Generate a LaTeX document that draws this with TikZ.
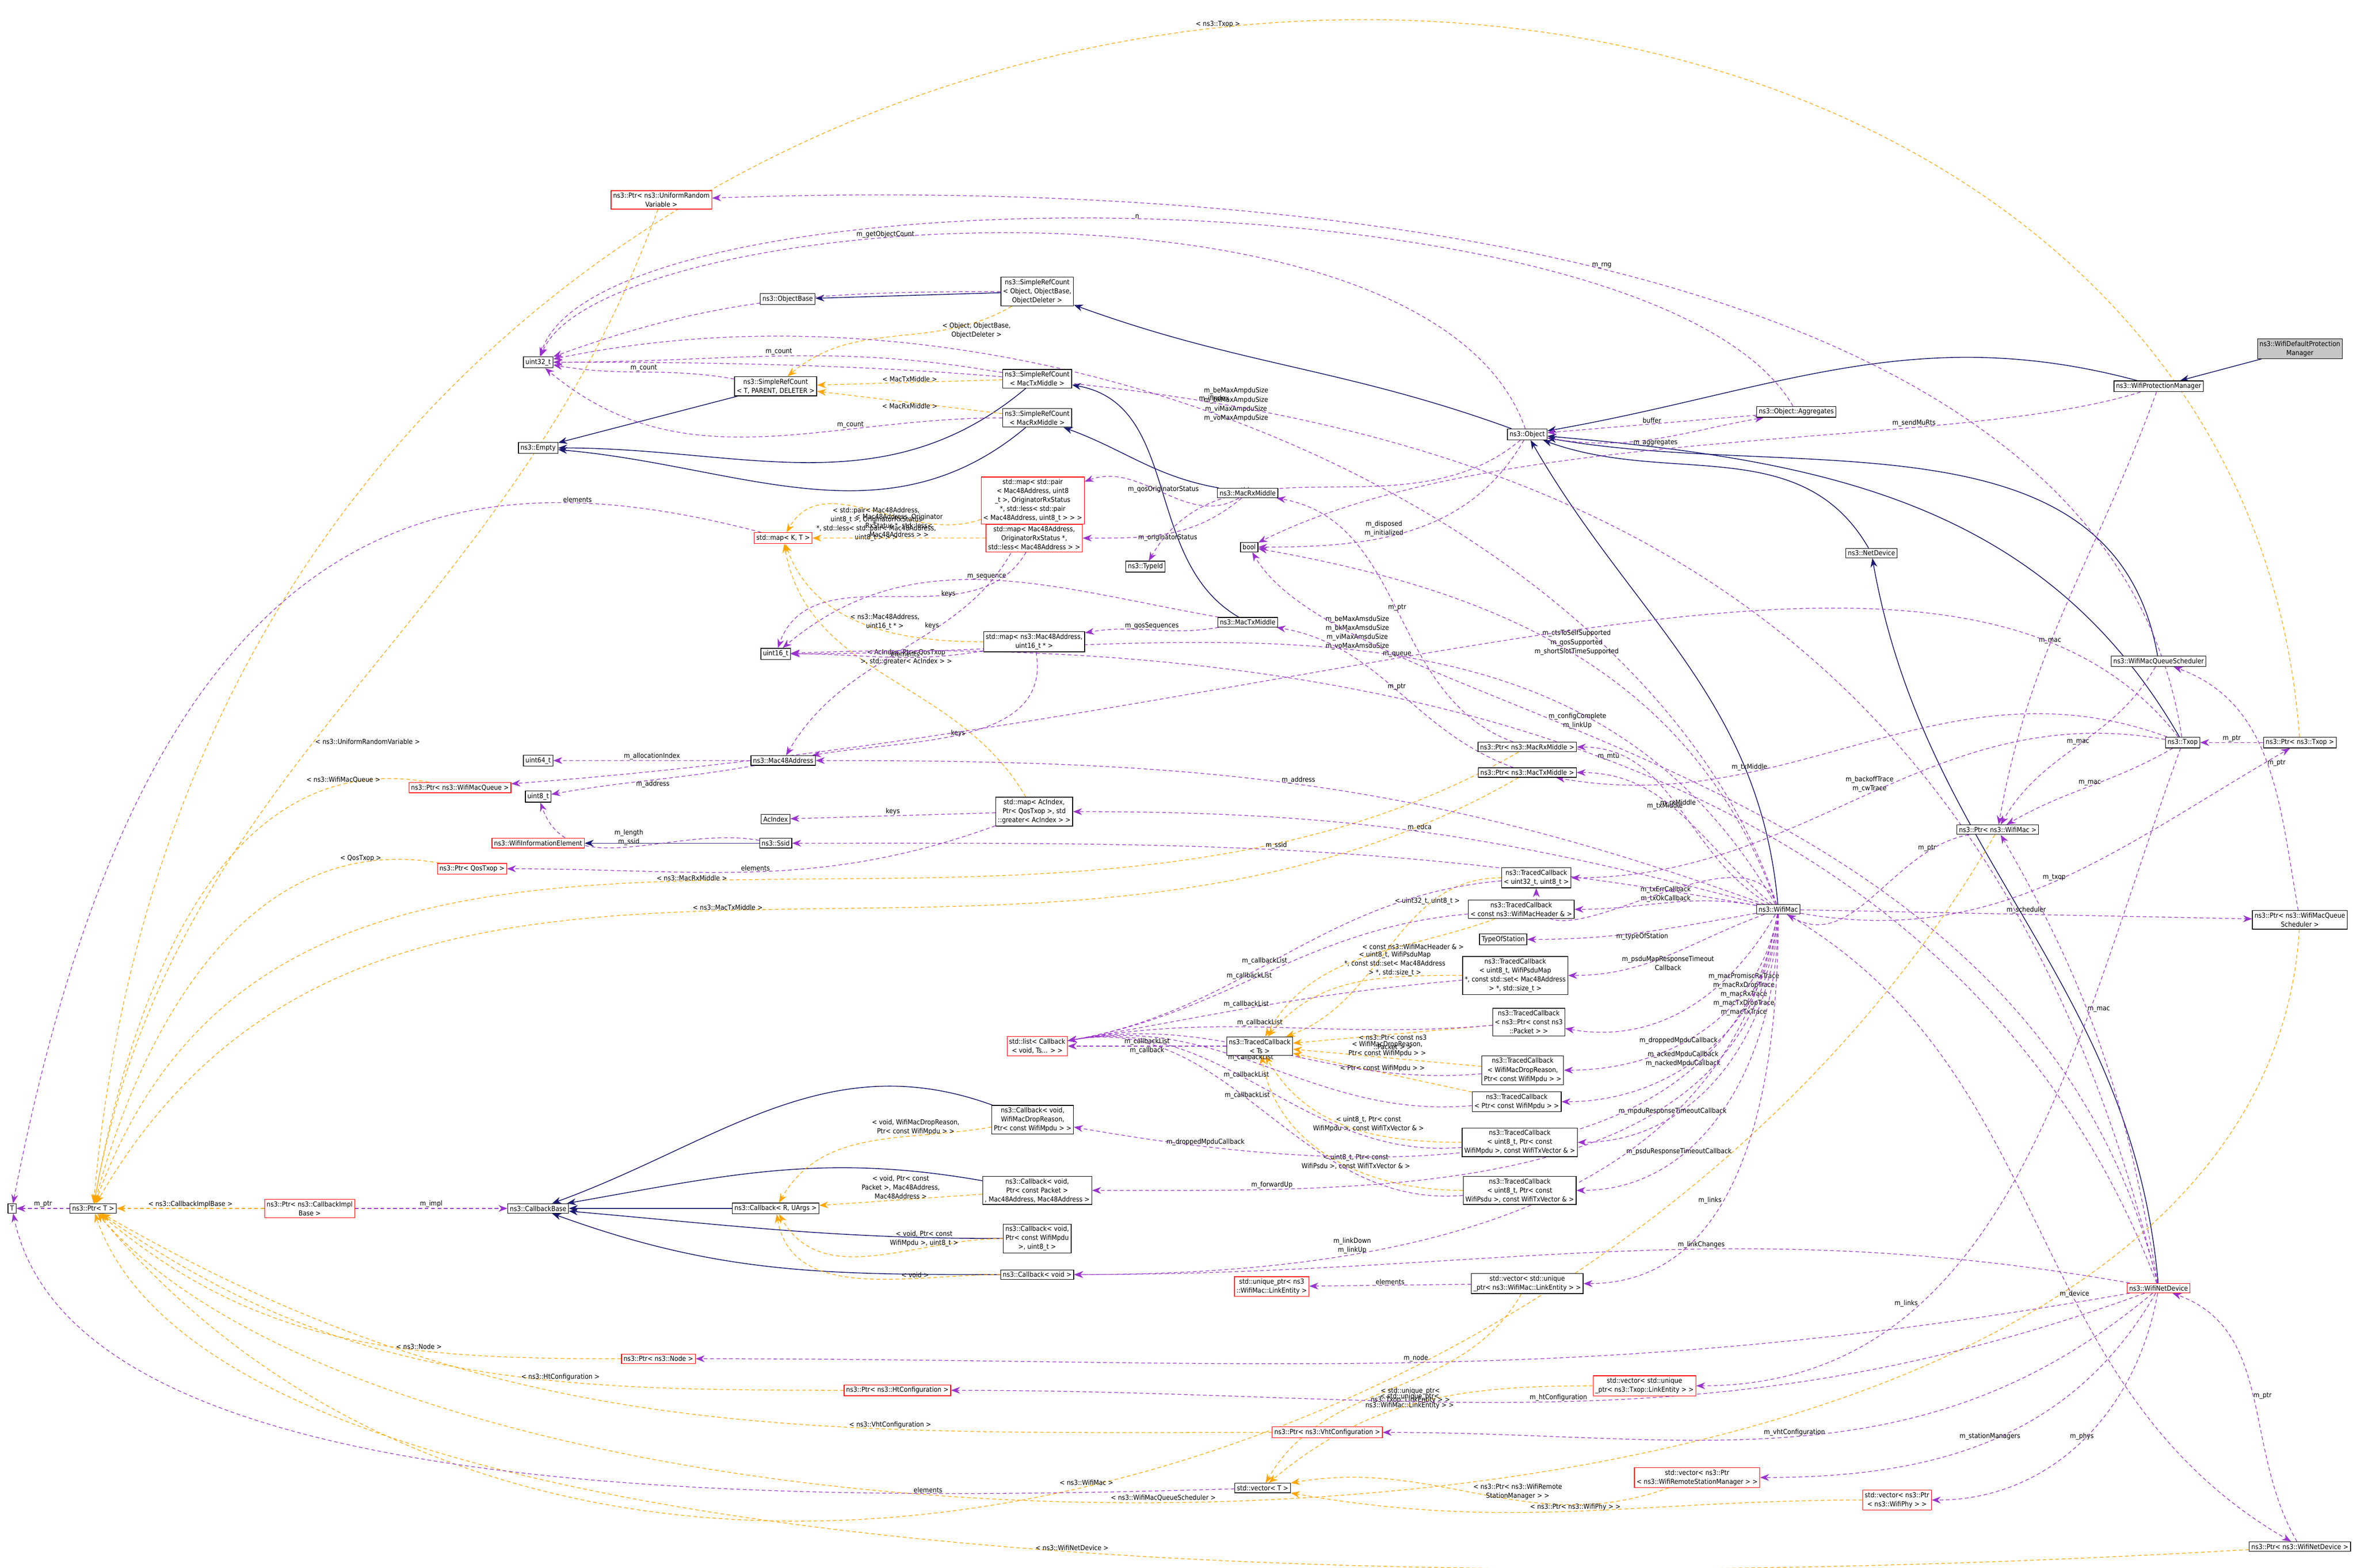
\documentclass[tikz,border=0pt]{standalone}
\usepackage{fontspec}
\setmainfont{DejaVu Sans Condensed}
\usetikzlibrary{arrows.meta}
\definecolor{navy}{HTML}{191970}
\definecolor{usep}{HTML}{9A32CD}
\definecolor{tplo}{HTML}{FFA500}
\pgfdeclarelayer{bg}\pgfsetlayers{bg,main}
\newcommand{\ff}{\fontsize{1.3}{1.7}\selectfont}
\tikzset{
 box/.style={draw=black, fill=white, line width=0.12pt, inner sep=0.4pt, align=center, font=\ff},
 rbox/.style={box, draw=red},
 gbox/.style={box, fill=gray!45},
 inh/.style={-{Stealth[length=0.6mm,width=0.45mm]}, draw=navy, line width=0.15pt},
 use/.style={-{Stealth[length=0.6mm,width=0.45mm]}, draw=usep, dash pattern=on 0.7pt off 0.5pt, line width=0.12pt},
 tpl/.style={use, draw=tplo},
 lbl/.style={font=\ff, align=center, inner sep=0.1pt, text=black},
}
\begin{document}
\begin{tikzpicture}[x=0.1mm,y=0.1mm]
\useasboundingbox (0,0) rectangle (1568,-1043);
% nodes
\node[gbox] (wdpm) at (1530,-232) {ns3::WifiDefaultProtection\\Manager};
\node[box] (wpm) at (1436,-257) {ns3::WifiProtectionManager};
\node[box] (obj) at (1016,-289) {ns3::Object};
\node[box] (agg) at (1195,-274) {ns3::Object::Aggregates};
\node[box] (srcobj) at (690,-194) {ns3::SimpleRefCount\\< Object, ObjectBase,\\ ObjectDeleter >};
\node[box] (objbase) at (524,-199) {ns3::ObjectBase};
\node[box] (u32) at (358,-241) {uint32\_t};
\node[box] (srctpd) at (516,-257) {ns3::SimpleRefCount\\< T, PARENT, DELETER >};
\node[box] (srctx) at (690,-252) {ns3::SimpleRefCount\\< MacTxMiddle >};
\node[box] (srcrx) at (690,-278) {ns3::SimpleRefCount\\< MacRxMiddle >};
\node[box] (empty) at (358,-298) {ns3::Empty};
\node[rbox] (mappair) at (687,-333) {std::map< std::pair\\< Mac48Address, uint8\\\_t >, OriginatorRxStatus\\ *, std::less< std::pair\\< Mac48Address, uint8\_t > > >};
\node[rbox] (mapkt) at (521,-358) {std::map< K, T >};
\node[rbox] (maporig) at (688,-358) {std::map< Mac48Address,\\ OriginatorRxStatus *,\\ std::less< Mac48Address > >};
\node[box] (macrx) at (830,-328) {ns3::MacRxMiddle};
\node[box] (bool) at (831,-364) {bool};
\node[box] (typeid) at (762,-377) {ns3::TypeId};
\node[box] (mactx) at (830,-414) {ns3::MacTxMiddle};
\node[box] (u16) at (516,-435) {uint16\_t};
\node[box] (mapseq) at (688,-427) {std::map< ns3::Mac48Address,\\ uint16\_t * >};
\node[box] (u64) at (358,-506) {uint64\_t};
\node[box] (mac48) at (521,-506) {ns3::Mac48Address};
\node[box] (u8) at (358,-530) {uint8\_t};
\node[rbox] (ptrq) at (306,-524) {ns3::Ptr< ns3::WifiMacQueue >};
\node[box] (acidx) at (516,-545) {AcIndex};
\node[box] (mapac) at (688,-540) {std::map< AcIndex,\\ Ptr< QosTxop >, std\\ ::greater< AcIndex > >};
\node[rbox] (wie) at (358,-561) {ns3::WifiInformationElement};
\node[box] (ssid) at (516,-561) {ns3::Ssid};
\node[rbox] (ptrqos) at (314,-578) {ns3::Ptr< QosTxop >};
\node[rbox] (ptrurv) at (440,-133) {ns3::Ptr< ns3::UniformRandom\\ Variable >};
\node[box] (ptrrx) at (1016,-497) {ns3::Ptr< ns3::MacRxMiddle >};
\node[box] (ptrtx) at (1016,-514) {ns3::Ptr< ns3::MacTxMiddle >};
\node[box] (tc1) at (1022,-584) {ns3::TracedCallback\\< uint32\_t, uint8\_t >};
\node[box] (tc2) at (1012,-605) {ns3::TracedCallback\\< const ns3::WifiMacHeader \& >};
\node[box] (tos) at (1000,-625) {TypeOfStation};
\node[box] (tc3) at (1008,-649) {ns3::TracedCallback\\< uint8\_t, WifiPsduMap\\ *, const std::set< Mac48Address\\ > *, std::size\_t >};
\node[box] (tc4) at (1017,-680) {ns3::TracedCallback\\< ns3::Ptr< const ns3\\ ::Packet > >};
\node[rbox] (list) at (690,-696) {std::list< Callback\\< void, Ts... > >};
\node[box] (tcts) at (838,-696) {ns3::TracedCallback\\< Ts >};
\node[box] (tc5) at (1013,-712) {ns3::TracedCallback\\< WifiMacDropReason,\\ Ptr< const WifiMpdu > >};
\node[box] (tc6) at (1009,-733) {ns3::TracedCallback\\< Ptr< const WifiMpdu > >};
\node[box] (tc7) at (1011,-760) {ns3::TracedCallback\\< uint8\_t, Ptr< const\\ WifiMpdu >, const WifiTxVector \& >};
\node[box] (tc8) at (1011,-792) {ns3::TracedCallback\\< uint8\_t, Ptr< const\\ WifiPsdu >, const WifiTxVector \& >};
\node[box] (wifimac) at (1183,-605) {ns3::WifiMac};
\node[box] (cbdrop) at (687,-745) {ns3::Callback< void,\\ WifiMacDropReason,\\ Ptr< const WifiMpdu > >};
\node[box] (cbpkt) at (690,-792) {ns3::Callback< void,\\ Ptr< const Packet >\\ , Mac48Address, Mac48Address >};
\node[box] (cbru) at (516,-804) {ns3::Callback< R, UArgs >};
\node[box] (cbmpdu) at (690,-824) {ns3::Callback< void,\\ Ptr< const WifiMpdu\\ >, uint8\_t >};
\node[box] (cbvoid) at (690,-848) {ns3::Callback< void >};
\node[box] (cbase) at (358,-804) {ns3::CallbackBase};
\node[rbox] (ptrcib) at (206,-804) {ns3::Ptr< ns3::CallbackImpl\\ Base >};
\node[box] (ptrT) at (62,-804) {ns3::Ptr< T >};
\node[box] (T) at (8,-804) {T};
\node[rbox] (uqlink) at (846,-856) {std::unique\_ptr< ns3\\ ::WifiMac::LinkEntity >};
\node[box] (veclink) at (1016,-854) {std::vector< std::unique\\ \_ptr< ns3::WifiMac::LinkEntity > >};
\node[rbox] (ptrnode) at (438,-904) {ns3::Ptr< ns3::Node >};
\node[rbox] (ptrht) at (597,-925) {ns3::Ptr< ns3::HtConfiguration >};
\node[rbox] (vectx) at (1094,-922) {std::vector< std::unique\\ \_ptr< ns3::Txop::LinkEntity > >};
\node[rbox] (ptrvht) at (883,-953) {ns3::Ptr< ns3::VhtConfiguration >};
\node[box] (vecT) at (840,-990) {std::vector< T >};
\node[rbox] (vecrsm) at (1129,-983) {std::vector< ns3::Ptr\\< ns3::WifiRemoteStationManager > >};
\node[rbox] (vecphy) at (1262,-998) {std::vector< ns3::Ptr\\< ns3::WifiPhy > >};
\node[rbox] (wnd) at (1436,-857) {ns3::WifiNetDevice};
\node[box] (ptrwnd) at (1530,-1029) {ns3::Ptr< ns3::WifiNetDevice >};
\node[box] (netdev) at (1245,-368) {ns3::NetDevice};
\node[box] (wmqs) at (1436,-440) {ns3::WifiMacQueueScheduler};
\node[box] (txop) at (1452,-494) {ns3::Txop};
\node[box] (ptrtxop) at (1530,-494) {ns3::Ptr< ns3::Txop >};
\node[box] (ptrmac) at (1329,-552) {ns3::Ptr< ns3::WifiMac >};
\node[box] (ptrwmqs) at (1530,-612) {ns3::Ptr< ns3::WifiMacQueue\\ Scheduler >};
\begin{pgfonlayer}{bg}
% inheritance
\draw[inh] (wdpm) -- (wpm);
\draw[inh] (wpm) to[out=165,in=10] (obj);
\draw[inh] (obj) to[out=160,in=-20] (srcobj);
\draw[inh] (srcobj) -- (objbase);
\draw[inh] (srctpd) -- (empty);
\draw[inh] (srctx) to[out=220,in=0] (empty);
\draw[inh] (srcrx) to[out=220,in=-5] (empty);
\draw[inh] (macrx) to[out=170,in=-20] (srcrx);
\draw[inh] (mactx) to[out=150,in=-10] (srctx);
\draw[inh] (wifimac) to[out=95,in=-60] (obj);
\draw[inh] (netdev) to[out=120,in=-20] (obj);
\draw[inh] (txop) to[out=120,in=-5] (obj);
\draw[inh] (wmqs) to[out=100,in=-10] (obj);
\draw[inh] (wnd) to[out=95,in=-80] (netdev);
\draw[inh] (ssid) -- (wie);
\draw[inh] (cbdrop) to[out=160,in=20] (cbase);
\draw[inh] (cbpkt) to[out=170,in=10] (cbase);
\draw[inh] (cbru) -- (cbase);
\draw[inh] (cbmpdu) to[out=180,in=-5] (cbase);
\draw[inh] (cbvoid) to[out=180,in=-20] (cbase);
% templates
\draw[tpl] (srcobj) to[out=-150,in=40] node[lbl,pos=0.3,right]{< Object, ObjectBase,\\ ObjectDeleter >} (srctpd);
\draw[tpl] (srctx) -- node[lbl,above]{< MacTxMiddle >} (srctpd);
\draw[tpl] (srcrx) -- node[lbl,below]{< MacRxMiddle >} (srctpd);
\draw[tpl] (mappair) to[out=-160,in=60] node[lbl,pos=0.2,left]{< std::pair< Mac48Address,\\ uint8\_t >, OriginatorRxStatus\\ *, std::less< std::pair< Mac48Address,\\ uint8\_t > > >} (mapkt);
\draw[tpl] (maporig) -- node[lbl,above]{< Mac48Address, Originator\\ RxStatus *, std::less<\\ Mac48Address > >} (mapkt);
\draw[tpl] (mapseq) to[out=180,in=-70] node[lbl,pos=0.4,above]{< ns3::Mac48Address,\\ uint16\_t * >} (mapkt);
\draw[tpl] (mapac) to[out=120,in=-80] node[lbl,pos=0.6,right]{< AcIndex, Ptr< QosTxop\\ >, std::greater< AcIndex > >} (mapkt);
\draw[tpl] (ptrurv) to[out=-110,in=80] node[lbl,pos=0.55,right]{< ns3::UniformRandomVariable >} (ptrT);
\draw[tpl] (ptrq) to[out=170,in=80] node[lbl,pos=0.15,above]{< ns3::WifiMacQueue >} (ptrT);
\draw[tpl] (ptrqos) to[out=170,in=75] node[lbl,pos=0.15,above]{< QosTxop >} (ptrT);
\draw[tpl] (ptrrx) to[out=-150,in=70] node[lbl,pos=0.5,above]{< ns3::MacRxMiddle >} (ptrT);
\draw[tpl] (ptrtx) to[out=-150,in=60] node[lbl,pos=0.5,above]{< ns3::MacTxMiddle >} (ptrT);
\draw[tpl] (ptrcib) -- node[lbl,above]{< ns3::CallbackImplBase >} (ptrT);
\draw[tpl] (ptrnode) to[out=180,in=-40] node[lbl,pos=0.35,above]{< ns3::Node >} (ptrT);
\draw[tpl] (ptrht) to[out=180,in=-35] node[lbl,pos=0.35,above]{< ns3::HtConfiguration >} (ptrT);
\draw[tpl] (ptrvht) to[out=180,in=-30] node[lbl,pos=0.3,above]{< ns3::VhtConfiguration >} (ptrT);
\draw[tpl] (ptrmac) to[out=-120,in=-50] node[lbl,pos=0.5,above]{< ns3::WifiMac >} (ptrT);
\draw[tpl] (ptrtxop) .. controls (1480,190) and (150,190) .. node[lbl,pos=0.5,above]{< ns3::Txop >} (ptrT);
\draw[tpl] (ptrwmqs) .. controls (1500,-1100) and (300,-1080) .. node[lbl,pos=0.55,above]{< ns3::WifiMacQueueScheduler >} (ptrT);
\draw[tpl] (ptrwnd) .. controls (1000,-1060) and (150,-1060) .. node[lbl,pos=0.45,above]{< ns3::WifiNetDevice >} (ptrT);
\draw[tpl] (tc1) to[out=180,in=20] node[lbl,pos=0.3,above]{< uint32\_t, uint8\_t >} (tcts);
\draw[tpl] (tc2) to[out=200,in=60] node[lbl,pos=0.3,below]{< const ns3::WifiMacHeader \& >} (tcts);
\draw[tpl] (tc3) to[out=180,in=50] node[lbl,pos=0.3,above]{< uint8\_t, WifiPsduMap\\ *, const std::set< Mac48Address\\ > *, std::size\_t >} (tcts);
\draw[tpl] (tc4) -- node[lbl,below]{< ns3::Ptr< const ns3\\ ::Packet > >} (tcts);
\draw[tpl] (tc5) -- node[lbl,above]{< WifiMacDropReason,\\ Ptr< const WifiMpdu > >} (tcts);
\draw[tpl] (tc6) -- node[lbl,above]{< Ptr< const WifiMpdu > >} (tcts);
\draw[tpl] (tc7) to[out=180,in=-60] node[lbl,pos=0.4,above]{< uint8\_t, Ptr< const\\ WifiMpdu >, const WifiTxVector \& >} (tcts);
\draw[tpl] (tc8) to[out=180,in=-80] node[lbl,pos=0.4,above]{< uint8\_t, Ptr< const\\ WifiPsdu >, const WifiTxVector \& >} (tcts);
\draw[tpl] (cbdrop) to[out=190,in=60] node[lbl,pos=0.3,above]{< void, WifiMacDropReason,\\ Ptr< const WifiMpdu > >} (cbru);
\draw[tpl] (cbpkt) -- node[lbl,above]{< void, Ptr< const\\ Packet >, Mac48Address,\\ Mac48Address >} (cbru);
\draw[tpl] (cbmpdu) to[out=180,in=-60] node[lbl,pos=0.3,above]{< void, Ptr< const\\ WifiMpdu >, uint8\_t >} (cbru);
\draw[tpl] (cbvoid) to[out=180,in=-80] node[lbl,pos=0.3,above]{< void >} (cbru);
\draw[tpl] (veclink) to[out=-120,in=60] node[lbl,pos=0.6,right]{< std::unique\_ptr<\\ ns3::WifiMac::LinkEntity > >} (vecT);
\draw[tpl] (vectx) to[out=180,in=40] node[lbl,pos=0.4,left]{< std::unique\_ptr<\\ ns3::Txop::LinkEntity > >} (vecT);
\draw[tpl] (vecrsm) to[out=200,in=10] node[lbl,pos=0.4,above]{< ns3::Ptr< ns3::WifiRemote\\ StationManager > >} (vecT);
\draw[tpl] (vecphy) to[out=180,in=-10] node[lbl,pos=0.5,above]{< ns3::Ptr< ns3::WifiPhy > >} (vecT);
% usage
\draw[use] (srcobj) to[out=180,in=20] node[lbl,above,pos=0.5]{m\_count} (u32);
\draw[use] (srctx) to[out=170,in=0] node[lbl,above,pos=0.5]{m\_count} (u32);
\draw[use] (srctpd) to[out=170,in=-10] node[lbl,above]{m\_count} (u32);
\draw[use] (srcrx) to[out=180,in=-40] node[lbl,above,pos=0.3]{m\_count} (u32);
\draw[use] (obj) .. controls (950,-100) and (400,-140) .. node[lbl,pos=0.6,above]{m\_getObjectCount} (u32);
\draw[use] (agg) .. controls (1100,-110) and (400,-110) .. node[lbl,pos=0.5,above]{n} (u32);
\draw[use] (agg) -- node[lbl,above]{buffer} (obj);
\draw[use] (obj) to[out=-10,in=190] node[lbl,below]{m\_aggregates} (agg);
\draw[use] (obj) to[out=-120,in=0] node[lbl,pos=0.6,above]{m\_disposed\\ m\_initialized} (bool);
\draw[use] (obj) to[out=-140,in=60] node[lbl,pos=0.7,above]{m\_tid} (typeid);
\draw[use] (mapkt) .. controls (300,-300) and (100,-330) .. node[lbl,pos=0.2,above]{elements} (T);
\draw[use] (vecT) .. controls (500,-1000) and (50,-1000) .. node[lbl,pos=0.2,above]{elements} (T);
\draw[use] (ptrT) -- node[lbl,above]{m\_ptr} (T);
\draw[use] (ptrcib) -- node[lbl,above]{m\_impl} (cbase);
\draw[use] (macrx) to[out=-150,in=20] node[lbl,pos=0.5,above]{m\_qosOriginatorStatus} (mappair);
\draw[use] (macrx) to[out=-140,in=0] node[lbl,pos=0.5,below]{m\_originatorStatus} (maporig);
\draw[use] (mactx) to[out=-170,in=10] node[lbl,pos=0.5,above]{m\_qosSequences} (mapseq);
\draw[use] (mactx) to[out=170,in=40] node[lbl,pos=0.5,above]{m\_sequence} (u16);
\draw[use] (mappair) to[out=-110,in=60] node[lbl,pos=0.4,left]{keys} (mac48);
\draw[use] (maporig) to[out=-120,in=70] node[lbl,pos=0.3,left]{keys} (u16);
\draw[use] (mapseq) to[out=-170,in=0] node[lbl,pos=0.4,above]{elements} (u16);
\draw[use] (mapseq) to[out=-80,in=10] node[lbl,pos=0.5,left]{keys} (mac48);
\draw[use] (mapac) -- node[lbl,above]{keys} (acidx);
\draw[use] (mapac) to[out=-160,in=0] node[lbl,pos=0.5,above]{elements} (ptrqos);
\draw[use] (mac48) -- node[lbl,above]{m\_allocationIndex} (u64);
\draw[use] (mac48) to[out=190,in=10] node[lbl,pos=0.5,below]{m\_address} (u8);
\draw[use] (ssid) to[out=170,in=-70] node[lbl,pos=0.5,above]{m\_length\\ m\_ssid} (u8);
\draw[use] (ptrrx) to[out=160,in=-10] node[lbl,pos=0.5,above]{m\_ptr} (macrx);
\draw[use] (ptrtx) to[out=160,in=-10] node[lbl,pos=0.5,above]{m\_ptr} (mactx);
\foreach \t in {tc1,tc2,tc3,tc4,tc5,tc6,tc7,tc8}
  \draw[use] (\t) to[out=185,in=10] node[lbl,pos=0.55,above]{m\_callbackList} (list);
\draw[use] (tcts) -- node[lbl,above]{m\_callbackList}node[lbl,below]{m\_callback} (list);
\draw[use] (wifimac) to[out=170,in=0] node[lbl,pos=0.5,above]{m\_txErrCallback\\ m\_txOkCallback} (tc2);
\draw[use] (wifimac) to[out=190,in=0] node[lbl,pos=0.5,below]{m\_typeOfStation} (tos);
\draw[use] (wifimac) to[out=200,in=0] node[lbl,pos=0.5,below]{m\_psduMapResponseTimeout\\ Callback} (tc3);
\draw[use] (wifimac) to[out=-120,in=-10] node[lbl,pos=0.4,right]{m\_macPromiscRxTrace\\ m\_macRxDropTrace\\ m\_macRxTrace\\ m\_macTxDropTrace\\ m\_macTxTrace} (tc4);
\draw[use] (wifimac) to[out=-100,in=0] node[lbl,pos=0.6,above]{m\_droppedMpduCallback} (tc5);
\draw[use] (wifimac) to[out=-95,in=0] node[lbl,pos=0.6,above]{m\_ackedMpduCallback\\ m\_nackedMpduCallback} (tc6);
\draw[use] (wifimac) to[out=-92,in=0] node[lbl,pos=0.7,above]{m\_mpduResponseTimeoutCallback} (tc7);
\draw[use] (wifimac) to[out=-90,in=0] node[lbl,pos=0.7,above]{m\_psduResponseTimeoutCallback} (tc8);
\draw[use] (wifimac) to[out=-95,in=0] node[lbl,pos=0.8,above]{m\_forwardUp} (cbpkt);
\draw[use] (wifimac) to[out=-100,in=0] node[lbl,pos=0.7,above]{m\_linkDown\\ m\_linkUp} (cbvoid);
\draw[use] (wifimac) to[out=-90,in=0] node[lbl,pos=0.6,left]{m\_links} (veclink);
\draw[use] (veclink) -- node[lbl,above]{elements} (uqlink);
\draw[use] (wifimac) to[out=110,in=-90] (tc1);
\draw[use] (wifimac) to[out=150,in=0] node[lbl,pos=0.5,above]{m\_rxMiddle} (ptrrx);
\draw[use] (wifimac) to[out=140,in=0] node[lbl,pos=0.6,below]{m\_txMiddle} (ptrtx);
\draw[use] (wifimac) to[out=160,in=0] node[lbl,pos=0.5,above]{m\_address} (mac48);
\draw[use] (wifimac) to[out=165,in=0] node[lbl,pos=0.5,above]{m\_edca} (mapac);
\draw[use] (wifimac) to[out=170,in=0] node[lbl,pos=0.5,above]{m\_ssid} (ssid);
\draw[use] (wifimac) to[out=120,in=0] node[lbl,pos=0.5,above]{m\_beMaxAmsduSize\\ m\_bkMaxAmsduSize\\ m\_viMaxAmsduSize\\ m\_voMaxAmsduSize} (u16);
\draw[use] (wifimac) .. controls (1100,-350) and (700,-170) .. node[lbl,pos=0.55,above]{m\_beMaxAmpduSize\\ m\_bkMaxAmpduSize\\ m\_viMaxAmpduSize\\ m\_voMaxAmpduSize} (u32);
\draw[use] (wifimac) to[out=110,in=-10] node[lbl,pos=0.5,above]{m\_ctsToSelfSupported\\ m\_qosSupported\\ m\_shortSlotTimeSupported} (bool);
\draw[use] (wifimac) to[out=-10,in=-150] node[lbl,pos=0.5,above]{m\_txop} (ptrtxop);
\draw[use] (wifimac) -- node[lbl,above]{m\_scheduler} (ptrwmqs);
\draw[use] (wifimac) to[out=-30,in=150] node[lbl,pos=0.6,above]{m\_device} (ptrwnd);
\draw[use] (wifimac) to[out=-100,in=-10] node[lbl,pos=0.85,above]{m\_droppedMpduCallback} (cbdrop);
\draw[use] (ptrtxop) -- node[lbl,above]{m\_ptr} (txop);
\draw[use] (ptrmac) to[out=-170,in=-30] node[lbl,pos=0.2,above]{m\_ptr} (wifimac);
\draw[use] (ptrwmqs) to[out=100,in=-20] node[lbl,pos=0.5,right]{m\_ptr} (wmqs);
\draw[use] (ptrwnd) to[out=120,in=-20] node[lbl,pos=0.5,right]{m\_ptr} (wnd);
\draw[use] (txop) to[out=-150,in=30] node[lbl,pos=0.5,above]{m\_mac} (ptrmac);
\draw[use] (wmqs) to[out=-120,in=60] node[lbl,pos=0.5,above]{m\_mac} (ptrmac);
\draw[use] (wpm) to[out=-110,in=80] node[lbl,pos=0.6,above]{m\_mac} (ptrmac);
\draw[use] (wnd) to[out=100,in=-60] node[lbl,pos=0.6,right]{m\_mac} (ptrmac);
\draw[use] (txop) to[out=170,in=0] node[lbl,pos=0.5,above]{m\_backoffTrace\\ m\_cwTrace} (tc1);
\draw[use] (txop) to[out=160,in=-10] node[lbl,pos=0.7,above]{m\_txMiddle} (ptrtx);
\draw[use] (txop) .. controls (1300,-300) and (900,-480) .. node[lbl,pos=0.6,above]{m\_queue} (ptrq);
\draw[use] (txop) .. controls (1400,-150) and (800,-120) .. node[lbl,pos=0.5,above]{m\_rng} (ptrurv);
\draw[use] (txop) to[out=-110,in=0] node[lbl,pos=0.7,left]{m\_links} (vectx);
\draw[use] (wpm) .. controls (1300,-300) and (1000,-280) .. node[lbl,pos=0.3,above]{m\_sendMuRts} (bool);
\draw[use] (wnd) .. controls (1300,-500) and (900,-420) .. node[lbl,pos=0.5,above]{m\_mtu} (u16);
\draw[use] (wnd) .. controls (1300,-300) and (900,-240) .. node[lbl,pos=0.7,above]{m\_ifIndex} (u32);
\draw[use] (wnd) .. controls (1350,-500) and (900,-480) .. node[lbl,pos=0.6,above]{m\_configComplete\\ m\_linkUp} (bool);
\draw[use] (wnd) to[out=-170,in=0] node[lbl,pos=0.5,above]{m\_node} (ptrnode);
\draw[use] (wnd) to[out=-160,in=0] node[lbl,pos=0.5,above]{m\_htConfiguration} (ptrht);
\draw[use] (wnd) to[out=-140,in=0] node[lbl,pos=0.5,above]{m\_vhtConfiguration} (ptrvht);
\draw[use] (wnd) to[out=-120,in=0] node[lbl,pos=0.5,above]{m\_stationManagers} (vecrsm);
\draw[use] (wnd) to[out=-100,in=0] node[lbl,pos=0.5,above]{m\_phys} (vecphy);
\draw[use] (wnd) to[out=170,in=0] node[lbl,pos=0.4,above]{m\_linkChanges} (cbvoid);
\end{pgfonlayer}
\end{tikzpicture}
\end{document}
